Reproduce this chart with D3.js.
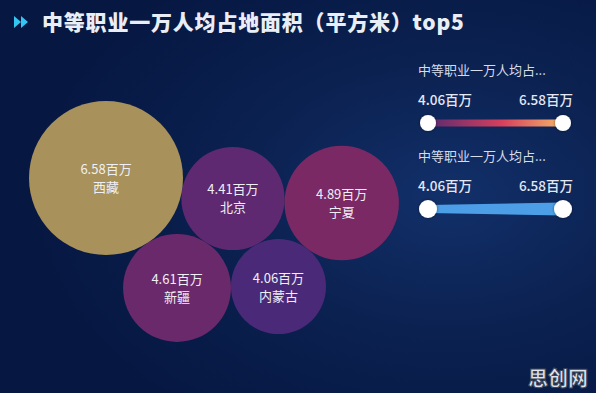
<!DOCTYPE html>
<html>
<head>
<meta charset="utf-8">
<script src="https://cdn.jsdelivr.net/npm/d3@7"></script>
<style>
    body { margin: 0; background: #0a1d48; overflow: hidden; }
    svg { display: block; }
</style>
</head>
<body>
<div id="chart"></div>
<script>
// ======= data =======
var provinces = ["北京", "新疆", "西藏", "内蒙古", "宁夏"];
var areaValues = [4.41, 4.61, 6.58, 4.06, 4.89];
var unitLabel = "百万";
var titleText = "中等职业一万人均占地面积（平方米）top5";
var legendTitles = ["中等职业一万人均占...", "中等职业一万人均占..."];
var legendRange = [4.06, 6.58];

// ======= formatting =======
var width = 596, height = 393;
var font = "'Noto Sans CJK SC', 'Noto Sans', sans-serif";
var packRotate = 122;          // degrees, orientation of the packed group
var packLeft = 29, packTop = 101;

var svg = d3.select("#chart").append("svg")
    .attr("width", width)
    .attr("height", height);

var defs = svg.append("defs");

// == background
var bg = defs.append("radialGradient")
    .attr("id", "bgGrad")
    .attr("cx", "75%").attr("cy", "50%").attr("r", "70%");
bg.append("stop").attr("offset", "0%").attr("stop-color", "#12306a");
bg.append("stop").attr("offset", "50%").attr("stop-color", "#0b2150");
bg.append("stop").attr("offset", "100%").attr("stop-color", "#061742");
svg.append("rect")
    .attr("width", width).attr("height", height)
    .attr("fill", "url(#bgGrad)");

// ======= title =======
svg.append("path")
    .attr("d", "M14,16 L21,22 L14,28 Z M21,16 L28,22 L21,28 Z")
    .attr("fill", "#33c6f3");
svg.append("text")
    .attr("x", 42).attr("y", 30)
    .attr("fill", "#e9eef6")
    .style("font-family", font)
    .style("font-size", "21px")
    .style("font-weight", 900)
    .style("letter-spacing", "0.8px")
    .text(titleText);

// ======= scales =======
var rScale = d3.scaleLinear()
    .domain([0, d3.max(areaValues)])
    .range([0, 77]);
var colorScale = d3.scaleLinear()
    .domain([legendRange[0], (legendRange[0] + legendRange[1]) / 2, legendRange[1]])
    .range(["#4a2a78", "#93285a", "#a8915a"]);

// ======= pack layout =======
var nodes = provinces.map(function(p, i) {
    return { name: p, value: areaValues[i], r: rScale(areaValues[i]) };
});
d3.packSiblings(nodes);

var ang = packRotate * Math.PI / 180;
nodes.forEach(function(d) {
    var x = d.x * Math.cos(ang) - d.y * Math.sin(ang);
    var y = d.x * Math.sin(ang) + d.y * Math.cos(ang);
    d.x = x; d.y = y;
});
var minX = d3.min(nodes, function(d) { return d.x - d.r; });
var minY = d3.min(nodes, function(d) { return d.y - d.r; });
nodes.forEach(function(d) {
    d.x += packLeft - minX;
    d.y += packTop - minY;
});

// ======= bubbles =======
var bubbles = svg.append("g").attr("id", "bubbles")
    .selectAll("g")
    .data(nodes)
    .enter()
    .append("g")
        .attr("transform", function(d) { return "translate(" + d.x + "," + d.y + ")"; });

bubbles.append("circle")
    .attr("r", function(d) { return d.r; })
    .attr("fill", function(d) { return colorScale(d.value); });

bubbles.append("text")
    .attr("text-anchor", "middle")
    .attr("y", -4)
    .attr("fill", "#eef0f6")
    .style("font-family", font)
    .style("font-size", "13px")
    .text(function(d) { return d.value.toFixed(2) + unitLabel; });

bubbles.append("text")
    .attr("text-anchor", "middle")
    .attr("y", 14)
    .attr("fill", "#eef0f6")
    .style("font-family", font)
    .style("font-size", "13px")
    .text(function(d) { return d.name; });

// ======= legends =======
var lg = defs.append("linearGradient").attr("id", "legGrad");
lg.append("stop").attr("offset", "0%").attr("stop-color", "#5a2a70");
lg.append("stop").attr("offset", "55%").attr("stop-color", "#d6405c");
lg.append("stop").attr("offset", "100%").attr("stop-color", "#f3b46a");

var legScale = d3.scaleLinear().domain(legendRange).range([428, 563]);

var handleShadow = defs.append("filter").attr("id", "hShadow")
    .attr("x", "-50%").attr("y", "-50%").attr("width", "200%").attr("height", "200%");
handleShadow.append("feDropShadow")
    .attr("dx", 0).attr("dy", 0).attr("stdDeviation", 1.5)
    .attr("flood-color", "#000").attr("flood-opacity", 0.5);

function drawLegend(idx, top) {
    var g = svg.append("g").attr("class", "legend");
    g.append("text")
        .attr("x", 418).attr("y", top)
        .attr("fill", "#d6dcea")
        .style("font-family", font)
        .style("font-size", "13px")
        .text(legendTitles[idx]);
    g.append("text")
        .attr("x", 418).attr("y", top + 30)
        .attr("fill", "#e4e8f2")
        .style("font-family", font)
        .style("font-size", "13.5px")
        .style("font-weight", 500)
        .text(legendRange[0].toFixed(2) + unitLabel);
    g.append("text")
        .attr("x", 573).attr("y", top + 30)
        .attr("text-anchor", "end")
        .attr("fill", "#e4e8f2")
        .style("font-family", font)
        .style("font-size", "13.5px")
        .style("font-weight", 500)
        .text(legendRange[1].toFixed(2) + unitLabel);

    var barY = top + 48;
    if (idx == 0) {
        g.append("rect")
            .attr("x", legScale(legendRange[0])).attr("y", barY - 3.5)
            .attr("width", legScale(legendRange[1]) - legScale(legendRange[0]))
            .attr("height", 7)
            .attr("fill", "url(#legGrad)");
    } else {
        var x0 = legScale(legendRange[0]), x1 = legScale(legendRange[1]);
        g.append("path")
            .attr("d", "M" + x0 + "," + (barY - 4) + "L" + x1 + "," + (barY - 6.5) +
                "L" + x1 + "," + (barY + 6.5) + "L" + x0 + "," + (barY + 4) + "Z")
            .attr("fill", "#4c9fe6");
    }
    g.selectAll("circle")
        .data(legendRange)
        .enter()
        .append("circle")
            .attr("cx", function(d) { return legScale(d); })
            .attr("cy", barY)
            .attr("r", idx == 0 ? 8 : 9)
            .attr("fill", "#ffffff")
            .attr("filter", "url(#hShadow)");
}
drawLegend(0, 75);
drawLegend(1, 161);

// ======= watermark =======
svg.append("text")
    .attr("x", 588).attr("y", 386)
    .attr("text-anchor", "end")
    .attr("fill", "#dfe3ea")
    .attr("stroke", "#3a4458")
    .attr("stroke-width", 1)
    .style("font-family", font)
    .style("font-size", "20px")
    .style("font-weight", 900)
    .text("思创网");
</script>
</body>
</html>
